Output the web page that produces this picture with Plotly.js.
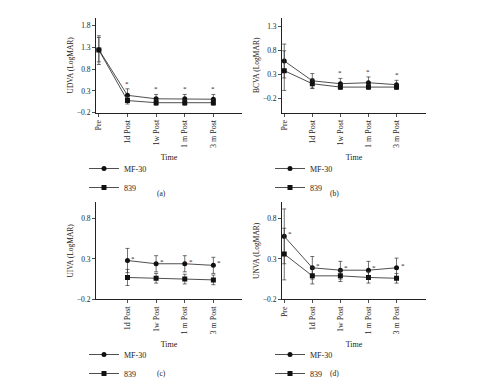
<!DOCTYPE html>
<html><head><meta charset="utf-8">
<script src="https://cdn.plot.ly/plotly-3.0.1.min.js"></script>
<style>body{margin:0;background:#fff}#c{width:500px;height:388px}</style>
</head><body><div id="c"></div>
<script>
const timeLabels = ["Pre","1d Post","1w Post","1 m Post","3 m Post"];
const seriesNames = ["MF-30","839"];
// (a) UDVA
const udvaMF = [1.25,0.20,0.12,0.12,0.11];
const udvaMFerr = [0.28,0.15,0.10,0.10,0.11];
const udva839 = [1.24,0.08,0.03,0.03,0.03];
const udva839err = [0.33,0.08,0.06,0.06,0.06];
const udvaStar = [false,true,true,true,true];
// (b) BCVA
const bcvaMF = [0.58,0.17,0.11,0.13,0.09];
const bcvaMFerr = [0.35,0.15,0.11,0.12,0.09];
const bcva839 = [0.38,0.11,0.04,0.04,0.04];
const bcva839err = [0.41,0.10,0.05,0.05,0.05];
const bcvaStar = [false,false,true,true,true];
// (c) UIVA (no Pre)
const uivaMF = [null,0.28,0.24,0.24,0.22];
const uivaMFerr = [0,0.15,0.10,0.10,0.10];
const uiva839 = [null,0.07,0.06,0.05,0.04];
const uiva839err = [0,0.10,0.06,0.06,0.06];
const uivaStar = [false,true,true,true,true];
// (d) UNVA
const unvaMF = [0.58,0.19,0.16,0.16,0.19];
const unvaMFerr = [0.34,0.14,0.11,0.11,0.12];
const unva839 = [0.36,0.09,0.09,0.07,0.06];
const unva839err = [0.32,0.10,0.07,0.07,0.06];
const unvaStar = [true,true,true,true,true];

const xIdx = timeLabels.map((_, i) => i);
const F = "Liberation Serif, Times New Roman, serif";
const panels = [
  {mf: udvaMF, mfe: udvaMFerr, s: udva839, se: udva839err, star: udvaStar, yt: "UDVA (LogMAR)", lbl: "(a)", starPos: "above"},
  {mf: bcvaMF, mfe: bcvaMFerr, s: bcva839, se: bcva839err, star: bcvaStar, yt: "BCVA (LogMAR)", lbl: "(b)", starPos: "above"},
  {mf: uivaMF, mfe: uivaMFerr, s: uiva839, se: uiva839err, star: uivaStar, yt: "UIVA (LogMAR)", lbl: "(c)", starPos: "right"},
  {mf: unvaMF, mfe: unvaMFerr, s: unva839, se: unva839err, star: unvaStar, yt: "UNVA (LogMAR)", lbl: "(d)", starPos: "right"}
];
// pixel geometry: [x0,x1,y0(top),y1(bottom)]
const geom = [[96,242,18,113],[282,426,18,113],[96,242,203,300],[282,426,203,300]];
const xr = [[-0.1,5.0],[-0.08,5.05],[-0.1,5.0],[-0.08,5.05]];
const yr = [[-0.2,1.98],[-0.49,1.47],[-0.2,1.0],[-0.2,1.0]];
const W = 500, H = 388;
const traces = [], annotations = [];
const layout = {
  width: W, height: H, margin: {l:0,r:0,t:0,b:0},
  paper_bgcolor: "#fff", plot_bgcolor: "#fff",
  font: {family: F, size: 7, color: "#222"}, showlegend: true
};
panels.forEach((p, k) => {
  const n = k + 1, sfx = n === 1 ? "" : String(n);
  const xa = "x" + sfx, ya = "y" + sfx;
  const g = geom[k];
  const legName = n === 1 ? "legend" : "legend" + n;
  const visIdx = xIdx.filter(i => p.mf[i] !== null);
  const tv = visIdx;
  const tt = visIdx.map(i => timeLabels[i]);
  layout["xaxis" + sfx] = {
    domain: [g[0]/W, g[1]/W], anchor: ya, range: xr[k],
    tickvals: tv, ticktext: tt, tickangle: -90,
    showline: true, linecolor: "#222", linewidth: 1, ticks: "outside", ticklen: 3, tickwidth: 0.8, tickcolor: "#222",
    showgrid: false, zeroline: false, tickfont: {family: F, size: 8, color: "#222"},
    title: {text: "Time", font: {family: F, size: 8, color: "#222"}, standoff: 7}
  };
  layout["yaxis" + sfx] = {
    domain: [1 - g[3]/H, 1 - g[2]/H], anchor: xa, range: yr[k],
    tick0: -0.2, dtick: 0.5, tickformat: ".1f",
    showline: true, linecolor: "#222", linewidth: 1, ticks: "outside", ticklen: 3, tickwidth: 0.8, tickcolor: "#222",
    showgrid: false, zeroline: false, tickfont: {family: F, size: 7.5, color: "#222"},
    title: {text: p.yt, font: {family: F, size: 7.5, color: "#222"}, standoff: 2}
  };
  const xs = visIdx, mfY = visIdx.map(i => p.mf[i]), mfE = visIdx.map(i => p.mfe[i]);
  const sY = visIdx.map(i => p.s[i]), sE = visIdx.map(i => p.se[i]);
  traces.push({
    type: "scatter", mode: "lines+markers", name: seriesNames[0], x: xs, y: mfY, xaxis: xa, yaxis: ya, legend: legName,
    line: {color: "#222", width: 0.8}, marker: {symbol: "circle", size: 5, color: "#111"},
    error_y: {type: "data", array: mfE, visible: true, color: "#333", thickness: 0.7, width: 2}
  });
  traces.push({
    type: "scatter", mode: "lines+markers", name: seriesNames[1], x: xs, y: sY, xaxis: xa, yaxis: ya, legend: legName,
    line: {color: "#222", width: 0.8}, marker: {symbol: "square", size: 5, color: "#111"},
    error_y: {type: "data", array: sE, visible: true, color: "#333", thickness: 0.7, width: 2}
  });
  layout[legName] = {
    x: (g[0] - 12)/W, y: 1 - (g[3] + 41)/H, xanchor: "left", yanchor: "top",
    bgcolor: "rgba(0,0,0,0)", font: {family: F, size: 8, color: "#222"},
    itemwidth: 30, tracegroupgap: 0
  };
  visIdx.forEach(i => {
    if (!p.star[i]) return;
    if (p.starPos === "above") {
      annotations.push({xref: xa, yref: ya, x: i, y: p.mf[i] + p.mfe[i], text: "*", showarrow: false,
        yanchor: "bottom", yshift: -1, font: {family: F, size: 7, color: "#222"}});
    } else {
      annotations.push({xref: xa, yref: ya, x: i, y: p.mf[i], text: "*", showarrow: false,
        xanchor: "left", xshift: 2, yshift: 2, font: {family: F, size: 7, color: "#222"}});
    }
  });
  annotations.push({xref: "paper", yref: "paper", x: (g[0] + 59)/W, y: 1 - (g[3] + 81)/H, text: p.lbl,
    showarrow: false, font: {family: F, size: 7.5, color: "#222"}});
});
layout.annotations = annotations;
Plotly.newPlot("c", traces, layout, {displayModeBar: false, staticPlot: true});
</script></body></html>
